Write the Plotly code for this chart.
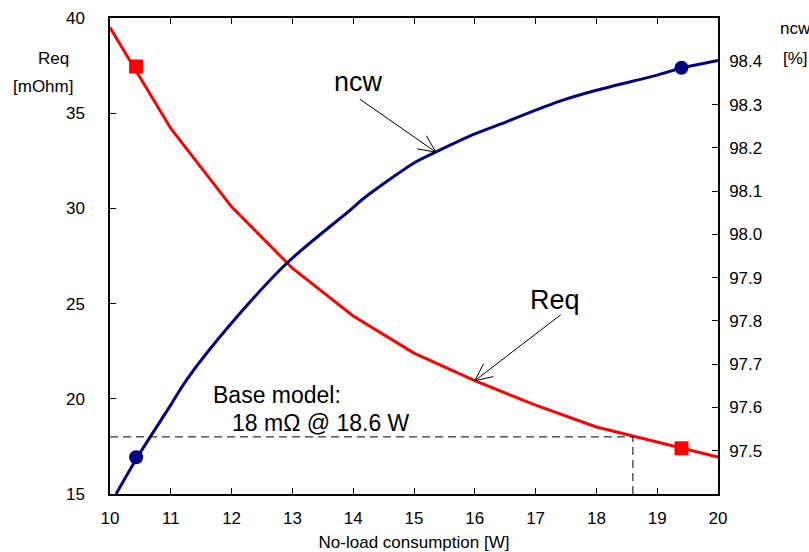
import math
import plotly.graph_objects as go

# Equivalent resistance vs. no-load consumption
load_w = [10, 11, 12, 13, 14, 15, 16, 17, 18, 19, 20]
req_mohm = [39.5, 34.2, 30.08, 26.86, 24.35, 22.4, 20.95, 19.67, 18.52, 17.72, 16.94]

# Efficiency (ncw) vs. no-load consumption
ncw_load_w = [10.1, 10.45, 11.0, 11.26, 12.0, 12.92, 13.95, 14.17, 15.0, 15.37,
              16.0, 16.52, 17.0, 17.4, 18.0, 19.0, 19.42, 20.0]
ncw_pct = [97.40, 97.485, 97.606, 97.664, 97.795, 97.935, 98.056, 98.083, 98.165, 98.191,
           98.232, 98.26, 98.287, 98.308, 98.333, 98.368, 98.385, 98.402]

# Highlighted design points
mark_w = [10.43, 19.4]
mark_req = [37.45, 17.4]
mark_ncw = [97.485, 98.385]

# Base model reference
base_req = 18
base_w = 18.6

x_ticks = list(range(10, 21))
req_ticks = [15, 20, 25, 30, 35, 40]
ncw_ticks = [97.5, 97.6, 97.7, 97.8, 97.9, 98.0, 98.1, 98.2, 98.3, 98.4]

RED = "#FF0000"
NAVY = "#000080"
FONT = "Liberation Sans, Arial, sans-serif"

fig = go.Figure()

fig.add_trace(go.Scatter(x=load_w, y=req_mohm, mode="lines",
                         line=dict(color=RED, width=3), yaxis="y", showlegend=False))
fig.add_trace(go.Scatter(x=mark_w, y=mark_req, mode="markers",
                         marker=dict(symbol="square", size=14, color=RED), yaxis="y",
                         showlegend=False))
fig.add_trace(go.Scatter(x=ncw_load_w, y=ncw_pct, mode="lines",
                         line=dict(color=NAVY, width=3, shape="spline", smoothing=0.8),
                         yaxis="y2", showlegend=False))
fig.add_trace(go.Scatter(x=mark_w, y=mark_ncw, mode="markers",
                         marker=dict(symbol="circle", size=14, color=NAVY), yaxis="y2",
                         showlegend=False))


def arrow_path(tail_dx, tail_dy, length=19, spread_deg=25):
    """Line from tail to tip (0,0) plus open V head, in pixel units (y up)."""
    ang = math.atan2(-tail_dy, -tail_dx)  # direction tail -> tip
    back = ang + math.pi
    s = math.radians(spread_deg)
    a1 = (length * math.cos(back + s), length * math.sin(back + s))
    a2 = (length * math.cos(back - s), length * math.sin(back - s))
    return (f"M {tail_dx:.1f},{tail_dy:.1f} L 0,0 "
            f"M {a1[0]:.1f},{a1[1]:.1f} L 0,0 L {a2[0]:.1f},{a2[1]:.1f}")


shapes = [
    # base-model guide lines
    dict(type="line", xref="x", yref="y", x0=10, x1=base_w, y0=base_req, y1=base_req,
         line=dict(color="black", width=1, dash="8px,5px")),
    dict(type="line", xref="x", yref="y", x0=base_w, x1=base_w, y0=15, y1=base_req,
         line=dict(color="black", width=1, dash="8px,5px")),
    # ncw pointer
    dict(type="path", xref="x", yref="y2", xsizemode="pixel", ysizemode="pixel",
         xanchor=15.36, yanchor=98.19, path=arrow_path(-76, 53),
         line=dict(color="black", width=1)),
    # Req pointer
    dict(type="path", xref="x", yref="y", xsizemode="pixel", ysizemode="pixel",
         xanchor=16.0, yanchor=20.95, path=arrow_path(86, 66),
         line=dict(color="black", width=1)),
]


def caption(text, px, py, xanchor="center"):
    """Text placed by page pixel position around the plot frame."""
    return dict(text=text, x=(px - 110) / 608, y=(494 - py) / 476,
                xref="paper", yref="paper", xanchor=xanchor, yanchor="middle",
                showarrow=False, font=dict(size=17, color="black", family=FONT))


annotations = [
    dict(text="ncw", x=14.08, y=98.352, xref="x", yref="y2", showarrow=False,
         font=dict(size=27, color="black", family=FONT)),
    dict(text="Req", x=17.32, y=25.19, xref="x", yref="y", showarrow=False,
         font=dict(size=27, color="black", family=FONT)),
    dict(text="Base model:", x=11.66, y=20.2, xref="x", yref="y", showarrow=False,
         xanchor="left", font=dict(size=23, color="black", family=FONT)),
    dict(text=f"{base_req} mΩ @ {base_w} W", x=11.97, y=18.73, xref="x", yref="y",
         showarrow=False, xanchor="left", font=dict(size=23, color="black", family=FONT)),
    # axis captions
    caption("Req", 53, 58),
    caption("[mOhm]", 43, 86),
    caption("ncw", 778, 28, xanchor="left"),
    caption("[%]", 795, 58),
]

axis_common = dict(showgrid=False, zeroline=False, showline=True, linecolor="black",
                   linewidth=1.5, ticks="inside", ticklen=6, tickcolor="black",
                   automargin=False,
                   tickfont=dict(size=17, color="black", family=FONT))

fig.update_layout(
    width=809, height=552,
    margin=dict(l=110, r=91, t=18, b=58),
    paper_bgcolor="white", plot_bgcolor="white",
    font=dict(family=FONT, color="black"),
    xaxis=dict(range=[10, 20], tickvals=x_ticks, mirror="ticks",
               title=dict(text="No-load consumption [W]", standoff=12,
                          font=dict(size=17, color="black", family=FONT)),
               ticklabelstandoff=8, **axis_common),
    yaxis=dict(range=[15, 40], tickvals=req_ticks, ticklabelstandoff=20, **axis_common),
    yaxis2=dict(range=[97.4, 98.5], tickvals=ncw_ticks,
                ticktext=[f"{v:.1f}" for v in ncw_ticks],
                overlaying="y", side="right", ticklabelstandoff=6, **axis_common),
    shapes=shapes,
    annotations=annotations,
)

fig.write_html("out.html")
